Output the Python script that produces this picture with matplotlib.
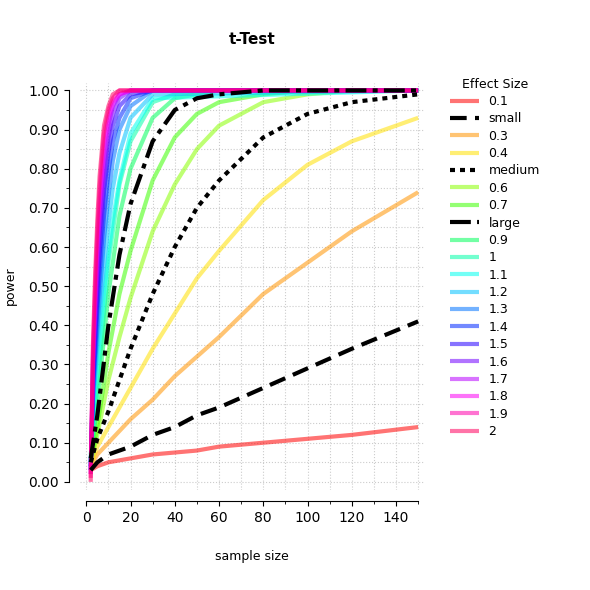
import matplotlib
matplotlib.use('Agg')
import matplotlib.pyplot as plt
import numpy as np

n_low = [2, 5, 10, 15, 20, 30, 40, 50, 60, 80, 100, 120, 150]
n_high = [2, 3, 4, 5, 6, 8, 10, 12, 15, 20, 30, 150]

power_low = {
    '0.1': [.03, .04, .05, .055, .06, .07, .075, .08, .09, .10, .11, .12, .14],
    'small': [.03, .05, .07, .08, .09, .12, .14, .17, .19, .24, .29, .34, .41],
    '0.3': [.04, .07, .10, .13, .16, .21, .27, .32, .37, .48, .56, .64, .74],
    '0.4': [.04, .09, .14, .19, .24, .34, .43, .52, .59, .72, .81, .87, .93],
    'medium': [.05, .11, .18, .26, .34, .48, .60, .70, .77, .88, .94, .97, .99],
    '0.6': [.05, .12, .26, .37, .47, .64, .76, .85, .91, .97, .99, 1, 1],
    '0.7': [.05, .14, .33, .48, .59, .77, .88, .94, .97, .99, 1, 1, 1],
    'large': [.06, .17, .40, .58, .71, .87, .95, .98, .99, 1, 1, 1, 1],
    '0.9': [.06, .20, .48, .68, .80, .93, .98, .99, 1, 1, 1, 1, 1],
    '1': [.07, .24, .56, .76, .87, .97, .99, 1, 1, 1, 1, 1, 1],
}
power_high = {
    '1.1': [.05, .17, .24, .30, .36, .48, .58, .67, .77, .89, .98, 1],
    '1.2': [.05, .19, .27, .35, .42, .55, .66, .75, .84, .93, .99, 1],
    '1.3': [.04, .21, .30, .39, .47, .62, .73, .82, .90, .96, 1, 1],
    '1.4': [.04, .23, .33, .44, .53, .68, .79, .87, .93, .98, 1, 1],
    '1.5': [.03, .25, .37, .48, .58, .74, .84, .91, .96, .99, 1, 1],
    '1.6': [.03, .27, .40, .52, .63, .78, .88, .94, .98, 1, 1, 1],
    '1.7': [.02, .29, .43, .56, .67, .82, .91, .96, .99, 1, 1, 1],
    '1.8': [.02, .31, .46, .60, .71, .86, .93, .97, .99, 1, 1, 1],
    '1.9': [.01, .33, .50, .64, .75, .89, .95, .98, 1, 1, 1, 1],
    '2': [.0, .35, .53, .67, .78, .91, .96, .99, 1, 1, 1, 1],
}
labels = ['0.1', 'small', '0.3', '0.4', 'medium', '0.6', '0.7', 'large', '0.9', '1',
          '1.1', '1.2', '1.3', '1.4', '1.5', '1.6', '1.7', '1.8', '1.9', '2']
black_styles = {'small': (0, (4, 2)), 'medium': (0, (1.2, 1.2)), 'large': (0, (5, 1.5, 1.2, 1.5))}

fig = plt.figure(figsize=(5.9, 5.9), dpi=100)
ax = fig.add_axes([0.135, 0.17, 0.585, 0.69])

for i, lab in enumerate(labels):
    if lab in power_low:
        x, y = n_low, power_low[lab]
    else:
        x, y = n_high, power_high[lab]
    if lab in black_styles:
        ax.plot(x, y, color='black', lw=3, ls=black_styles[lab], label=lab, zorder=3)
    else:
        c = plt.cm.hsv(i / 19 * 0.95)
        ax.plot(x, y, color=c, alpha=0.55, lw=3, label=lab, solid_capstyle='butt')

ax.set_xlim(-3, 153)
ax.set_ylim(-0.02, 1.02)
ax.set_xticks(np.arange(0, 151, 10), minor=True)
ax.set_xticks(np.arange(0, 141, 20))
ax.set_yticks(np.arange(0, 1.001, 0.1))
ax.set_yticklabels([f'{v:.2f}' for v in np.arange(0, 1.001, 0.1)], rotation=90, va='center')
ax.set_yticks(np.arange(0.05, 1, 0.1), minor=True)
ax.grid(True, which='both', ls=':', color='#cccccc', lw=0.8)
for s in ['top', 'right']:
    ax.spines[s].set_visible(False)
ax.spines['left'].set_position(('outward', 8))
ax.spines['bottom'].set_position(('outward', 8))
ax.spines['left'].set_bounds(0, 1)
ax.spines['bottom'].set_bounds(0, 150)
ax.tick_params(labelsize=10)
ax.set_xlabel('sample size', labelpad=18, fontsize=9)
ax.set_ylabel('power', labelpad=8, fontsize=9)
ax.set_title('t-Test', fontweight='bold', fontsize=11, pad=28)

ax.legend(loc='upper left', bbox_to_anchor=(1.04, 1.04), frameon=False, title='Effect Size',
          fontsize=9, title_fontsize=9, handlelength=2.3, labelspacing=0.35)
fig.savefig('out.png', dpi=100)
